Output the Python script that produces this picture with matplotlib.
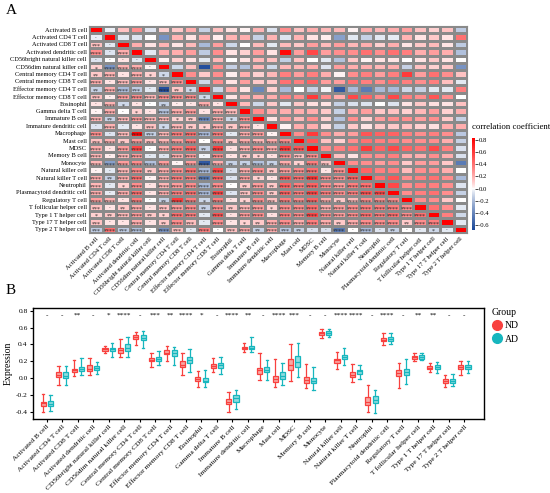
import numpy as np
import matplotlib
matplotlib.use('Agg')
import matplotlib.pyplot as plt
from matplotlib.colors import ListedColormap, Normalize, to_rgb
from matplotlib.lines import Line2D
import matplotlib.ticker as mticker

plt.rcParams['font.family'] = ['Liberation Serif', 'DejaVu Serif']

cells = ["Activated B cell", "Activated CD4 T cell", "Activated CD8 T cell",
         "Activated dendritic cell", "CD56bright natural killer cell",
         "CD56dim natural killer cell", "Central memory CD4 T cell",
         "Central memory CD8 T cell", "Effector memory CD4 T cell",
         "Effector memory CD8 T cell", "Eosinophil", "Gamma delta T cell",
         "Immature B cell", "Immature dendritic cell", "Macrophage", "Mast cell",
         "MDSC", "Memory B cell", "Monocyte", "Natural killer cell",
         "Natural killer T cell", "Neutrophil", "Plasmacytoid dendritic cell",
         "Regulatory T cell", "T follicular helper cell", "Type 1 T helper cell",
         "Type 17 T helper cell", "Type 2 T helper cell"]

# upper triangle of the correlation matrix (row i, columns i+1 .. 27)
upper = [
    [-0.03, 0.14, 0.3, -0.06, 0.1, 0.12, 0.2, -0.12, 0.15, 0.05, 0.02, 0.18, -0.06, 0.3, 0.14, 0.2, 0.17, 0.17, 0.02, 0.2, 0.17, 0.2, 0.25, 0.14, 0.1, 0.14, -0.14],
    [-0.05, -0.06, 0.0, -0.35, 0.18, 0.05, 0.2, 0.03, 0.18, 0.2, -0.12, 0.18, -0.06, 0.18, 0.05, 0.03, -0.3, -0.05, -0.12, -0.05, -0.04, 0.18, 0.05, 0.12, 0.05, 0.4],
    [0.2, 0.05, 0.18, 0.05, 0.16, -0.2, 0.25, -0.1, 0.0, 0.16, -0.05, 0.16, 0.12, 0.25, 0.16, 0.25, 0.17, 0.2, 0.1, 0.2, 0.05, 0.12, 0.16, 0.05, -0.14],
    [-0.05, 0.2, 0.2, 0.25, -0.14, 0.3, 0.05, 0.1, 0.25, 0.05, 0.8, 0.25, 0.55, 0.25, 0.3, 0.3, 0.4, 0.3, 0.4, 0.35, 0.2, 0.25, 0.2, -0.18],
    [0.02, 0.1, 0.05, -0.05, 0.17, 0.0, 0.05, 0.17, 0.14, -0.13, 0.14, 0.0, -0.05, -0.17, 0.12, 0.02, 0.05, 0.05, 0.0, 0.05, 0.12, 0.05, 0.0],
    [-0.1, 0.14, -0.65, 0.3, -0.12, -0.17, 0.17, -0.1, 0.17, 0.17, 0.2, -0.06, 0.25, 0.2, 0.2, 0.17, 0.2, -0.12, 0.14, 0.1, 0.12, -0.35],
    [0.3, 0.12, 0.3, 0.03, 0.2, 0.1, 0.17, 0.35, 0.25, 0.35, 0.2, 0.02, 0.3, 0.35, 0.25, 0.35, 0.6, 0.25, 0.4, 0.3, 0.14],
    [-0.1, 0.3, 0.05, 0.25, 0.12, 0.12, 0.4, 0.35, 0.45, 0.25, 0.25, 0.4, 0.35, 0.3, 0.4, 0.35, 0.3, 0.35, 0.15, -0.05],
    [-0.1, 0.2, 0.05, -0.4, 0.1, -0.2, 0.0, -0.12, -0.02, -0.6, -0.2, -0.45, -0.2, -0.2, -0.1, -0.12, -0.05, -0.05, 0.35],
    [0.05, 0.2, 0.2, 0.2, 0.35, 0.3, 0.6, 0.3, 0.2, 0.55, 0.45, 0.3, 0.55, 0.35, 0.3, 0.5, 0.3, 0.0],
    [0.16, -0.1, 0.12, -0.05, 0.12, 0.06, 0.05, -0.12, -0.07, -0.06, 0.0, -0.06, 0.05, 0.12, 0.06, 0.05, 0.14],
    [0.3, 0.2, 0.2, 0.2, 0.2, 0.12, -0.12, 0.2, 0.25, 0.12, 0.14, 0.1, 0.17, 0.25, 0.1, 0.2],
    [0.05, 0.25, 0.17, 0.3, 0.1, -0.17, 0.3, 0.1, 0.25, 0.3, 0.3, 0.25, 0.3, 0.12, -0.12],
    [0.02, 0.2, 0.2, 0.06, -0.12, 0.12, 0.05, 0.12, 0.12, 0.14, 0.1, 0.06, 0.2, 0.2],
    [0.3, 0.6, 0.3, 0.2, 0.25, 0.5, 0.45, 0.45, 0.35, 0.3, 0.35, 0.3, -0.15],
    [0.5, 0.14, 0.1, 0.3, 0.4, 0.35, 0.35, 0.3, 0.3, 0.3, 0.2, -0.12],
    [0.3, 0.35, 0.4, 0.6, 0.45, 0.55, 0.45, 0.4, 0.55, 0.35, -0.07],
    [0.14, 0.05, 0.3, 0.3, 0.35, 0.2, 0.2, 0.3, 0.2, -0.07],
    [0.3, 0.3, 0.25, 0.3, 0.12, 0.25, 0.25, 0.12, -0.45],
    [0.45, 0.35, 0.35, 0.16, 0.3, 0.3, 0.2, 0.0],
    [0.4, 0.5, 0.3, 0.35, 0.4, 0.3, -0.2],
    [0.55, 0.3, 0.35, 0.35, 0.3, -0.06],
    [0.3, 0.35, 0.4, 0.3, -0.12],
    [0.3, 0.3, 0.12, 0.0],
    [0.4, 0.3, -0.05],
    [0.35, -0.1],
    [-0.05],
]

# Panel B box statistics
nd_med = [-0.30, 0.04, 0.09, 0.11, 0.34, 0.33, 0.49, 0.22, 0.30, 0.16, -0.01, 0.14, -0.28, 0.36, 0.09, -0.01, 0.16, -0.02, 0.53, 0.21, 0.04, -0.28, 0.45, 0.06, 0.25, 0.12, -0.03, 0.13]
nd_q1 = [-0.33, 0.01, 0.07, 0.08, 0.325, 0.30, 0.467, 0.20, 0.28, 0.13, -0.036, 0.12, -0.31, 0.341, 0.05, -0.05, 0.095, -0.055, 0.507, 0.18, 0.016, -0.32, 0.436, 0.03, 0.226, 0.103, -0.055, 0.111]
nd_q3 = [-0.28, 0.067, 0.111, 0.15, 0.352, 0.36, 0.507, 0.242, 0.333, 0.198, 0.008, 0.162, -0.25, 0.368, 0.123, 0.02, 0.222, 0.016, 0.551, 0.23, 0.071, -0.23, 0.471, 0.095, 0.265, 0.143, -0.012, 0.154]
nd_lo = [-0.40, -0.083, 0.028, 0.036, 0.293, 0.253, 0.396, 0.135, 0.206, 0.036, -0.103, 0.067, -0.408, 0.313, -0.024, -0.111, -0.036, -0.123, 0.479, 0.107, -0.044, -0.40, 0.396, -0.115, 0.206, 0.075, -0.103, 0.036]
nd_hi = [-0.194, 0.143, 0.214, 0.234, 0.38, 0.459, 0.551, 0.301, 0.38, 0.301, 0.083, 0.234, -0.17, 0.42, 0.301, 0.226, 0.404, 0.166, 0.586, 0.309, 0.162, -0.083, 0.531, 0.174, 0.293, 0.182, 0.032, 0.202]
ad_med = [-0.31, 0.03, 0.11, 0.12, 0.34, 0.36, 0.48, 0.23, 0.30, 0.21, -0.03, 0.15, -0.24, 0.36, 0.10, 0.03, 0.19, -0.03, 0.53, 0.25, 0.08, -0.26, 0.47, 0.07, 0.25, 0.13, -0.03, 0.13]
ad_q1 = [-0.333, 0.0, 0.087, 0.091, 0.325, 0.325, 0.451, 0.206, 0.265, 0.174, -0.048, 0.123, -0.281, 0.345, 0.071, -0.012, 0.135, -0.063, 0.515, 0.222, 0.048, -0.301, 0.444, 0.04, 0.23, 0.103, -0.055, 0.103]
ad_q3 = [-0.277, 0.067, 0.135, 0.143, 0.36, 0.40, 0.511, 0.253, 0.329, 0.246, -0.004, 0.178, -0.206, 0.384, 0.135, 0.067, 0.257, 0.0, 0.554, 0.273, 0.099, -0.214, 0.491, 0.103, 0.273, 0.15, -0.008, 0.158]
ad_lo = [-0.388, -0.087, 0.036, 0.048, 0.246, 0.253, 0.352, 0.15, 0.158, 0.071, -0.103, 0.048, -0.368, 0.313, -0.024, -0.087, 0.016, -0.143, 0.491, 0.158, -0.016, -0.42, 0.404, -0.071, 0.214, 0.055, -0.091, 0.055]
ad_hi = [-0.202, 0.143, 0.234, 0.194, 0.412, 0.483, 0.562, 0.325, 0.364, 0.349, 0.095, 0.253, -0.143, 0.483, 0.214, 0.182, 0.412, 0.127, 0.578, 0.352, 0.154, -0.143, 0.539, 0.222, 0.293, 0.186, 0.044, 0.202]
sig = ["-", "-", "**", "-", "*", "****", "-", "***", "**", "****", "*", "-", "****", "**",
       "-", "****", "***", "-", "-", "****", "****", "-", "****", "-", "**", "**", "-", "-"]
groups = ["ND", "AD"]

# ---------------- styles ----------------
W, H = 550, 493
fig = plt.figure(figsize=(W / 100, H / 100), dpi=100)
C_ND = '#F8413F'
C_AD = '#17B6BE'
F_ND = '#F9A7A3'
F_AD = '#8FDCDF'

n = len(cells)
corr = np.eye(n)
for i, row in enumerate(upper):
    corr[i, i + 1:] = row
    corr[i + 1:, i] = row

vmin, vmax = -0.68, 0.833
RED = np.array(to_rgb('#FF0000'))
BLUE = np.array(to_rgb('#1A4899'))
WHITE = np.ones(3)
GAMMA = 0.8
lut = []
for t in np.linspace(0, 1, 512):
    v = vmin + t * (vmax - vmin)
    if v >= 0:
        s = (v / vmax) ** GAMMA
        lut.append(WHITE * (1 - s) + RED * s)
    else:
        s = (v / vmin) ** GAMMA
        lut.append(WHITE * (1 - s) + BLUE * s)
cmap = ListedColormap(lut)
norm = Normalize(vmin=vmin, vmax=vmax)


def star(r):
    a = abs(r)
    if a < 0.08:
        return '-'
    if a < 0.11:
        return '*'
    if a < 0.13:
        return '**'
    if a < 0.155:
        return '***'
    return '****'


# ---------------- Panel A ----------------
axA = fig.add_axes([89 / W, 1 - 233 / H, (467 - 89) / W, (233 - 26) / H])
mesh = axA.pcolormesh(np.arange(n + 1), np.arange(n + 1), corr, cmap=cmap, norm=norm,
                      edgecolors='#8A8A8A', linewidth=0.8)
axA.set_xlim(0, n)
axA.set_ylim(n, 0)
for i in range(n):
    for j in range(i):
        s = star(corr[i, j])
        if s == '-':
            axA.text(j + 0.5, i + 0.62, '-', ha='center', va='center', fontsize=3.5, color='#222222')
        else:
            axA.text(j + 0.5, i + 0.78, s, ha='center', va='center', fontsize=4.2, color='#222222')
axA.set_xticks(np.arange(n) + 0.5)
axA.set_yticks(np.arange(n) + 0.5)
axA.set_yticklabels(cells, fontsize=4.6)
axA.set_xticklabels(cells, fontsize=4.8, rotation=45, ha='right', va='top', rotation_mode='anchor')
axA.tick_params(length=0, pad=1.5)
axA.tick_params(axis='x', pad=2.5)
for sp in axA.spines.values():
    sp.set_color('#8A8A8A')
    sp.set_linewidth(0.8)

cax = fig.add_axes([472 / W, 1 - 230 / H, 3 / W, 92 / H])
cb = fig.colorbar(mesh, cax=cax, ticks=[-0.6, -0.4, -0.2, 0.0, 0.2, 0.4, 0.6, 0.8])
cb.outline.set_visible(False)
cb.ax.tick_params(labelsize=4.8, length=2, width=0.5, pad=1)
cb.ax.yaxis.set_major_formatter(mticker.FormatStrFormatter('%.1f'))
fig.text(472 / W, 1 - 127 / H, 'correlation coefficient', fontsize=6.3, ha='left', va='center')

# ---------------- Panel B ----------------
axB = fig.add_axes([33.3 / W, 1 - 418.7 / H, (484 - 33.3) / W, (418.7 - 307.7) / H])
pos = np.arange(1, n + 1)
off = 0.235
for g, (med, q1, q3, lo, hi, col, fc, dx) in enumerate([
        (nd_med, nd_q1, nd_q3, nd_lo, nd_hi, C_ND, F_ND, -off),
        (ad_med, ad_q1, ad_q3, ad_lo, ad_hi, C_AD, F_AD, off)]):
    stats = [dict(med=med[k], q1=q1[k], q3=q3[k], whislo=lo[k], whishi=hi[k], fliers=[])
             for k in range(n)]
    axB.bxp(stats, positions=pos + dx, widths=0.33, patch_artist=True, showfliers=False,
            boxprops=dict(facecolor=fc, edgecolor=col, linewidth=0.9),
            whiskerprops=dict(color=col, linewidth=0.9),
            capprops=dict(color=col, linewidth=0.9),
            medianprops=dict(color=col, linewidth=0.9),
            capwidths=0.16, manage_ticks=False)
for k in range(n):
    axB.text(pos[k], 0.745, sig[k], ha='center', va='center', fontsize=5.2)
axB.set_xlim(0.13, 29.27)
axB.set_ylim(-0.483, 0.836)
axB.set_xticks(pos)
axB.set_xticklabels(cells, fontsize=5.4, rotation=45, ha='right', va='top', rotation_mode='anchor')
axB.set_yticks([-0.4, -0.2, 0.0, 0.2, 0.4, 0.6, 0.8])
axB.yaxis.set_major_formatter(mticker.FormatStrFormatter('%.1f'))
axB.tick_params(axis='y', labelsize=5.4, length=2.5, width=0.8, pad=1.5)
axB.tick_params(axis='x', length=2.5, width=0.8, pad=1.5)
axB.set_ylabel('Expression', fontsize=7, labelpad=2)
for sp in axB.spines.values():
    sp.set_linewidth(1.0)

handles = [Line2D([], [], marker='o', linestyle='', markersize=7, markerfacecolor=c, markeredgecolor=c)
           for c in (C_ND, C_AD)]
fig.legend(handles, groups, title='Group', loc='upper left', bbox_to_anchor=(484 / W, 1 - 301 / H),
           frameon=False, fontsize=7, title_fontsize=7, handletextpad=0.2, labelspacing=0.45,
           borderpad=0.2, handlelength=1.2)

fig.text(6 / W, 1 - 11 / H, 'A', fontsize=11, ha='left', va='center')
fig.text(6 / W, 1 - 291 / H, 'B', fontsize=11, ha='left', va='center')

fig.savefig('out.png', dpi=100)
